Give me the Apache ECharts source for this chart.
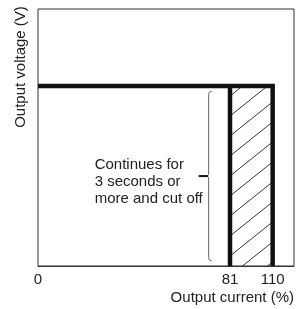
<!DOCTYPE html>
<html>
<head>
<meta charset="utf-8">
<script src="https://cdn.jsdelivr.net/npm/echarts@6/dist/echarts.min.js"></script>
<style>
html, body { margin: 0; padding: 0; background: #fff; }
#main { width: 303px; height: 309px; }
</style>
</head>
<body>
<div id="main"></div>
<script>
// schematic current axis: tick slots, only a few carry a label
var currentTicks = ['0', '', '', '', '', '', '', '', '', '81', '', '110', ''];
var voltageMax = 100;
var ratedVoltage = 70;
var limitStart = '81';
var limitEnd = '110';
// brace: [slot, top, bottom]
var braceSpan = [8, 68, 2];
var noteLines = ['Continues for', '3 seconds or', 'more and cut off'];

var FONT = '"Liberation Sans", Arial, Helvetica, sans-serif';
var i0 = currentTicks.indexOf('0');
var iStart = currentTicks.indexOf(limitStart);
var iEnd = currentTicks.indexOf(limitEnd);

// hatch pattern
var hatch = document.createElement('canvas');
hatch.width = 25;
hatch.height = 20;
var hc = hatch.getContext('2d');
hc.strokeStyle = '#333';
hc.lineWidth = 1;
hc.beginPath();
hc.moveTo(0, 20);
hc.lineTo(25, 0);
hc.stroke();

var myChart = echarts.init(document.getElementById('main'));

var option = {
    animation: false,
    grid: {
        left: 38, right: 9, top: 9, bottom: 43,
        show: true, borderColor: '#333', borderWidth: 1
    },
    xAxis: {
        type: 'category',
        data: currentTicks,
        boundaryGap: false,
        axisLine: { show: true, lineStyle: { color: '#333', width: 1 } },
        axisTick: { show: false },
        axisLabel: { interval: 0, color: '#222', fontSize: 15, fontFamily: FONT, margin: 6 },
        splitLine: { show: false },
        name: 'Output current (%)',
        nameLocation: 'end',
        nameGap: 0,
        nameTextStyle: {
            align: 'right', verticalAlign: 'top', color: '#222',
            fontSize: 15, fontFamily: FONT, padding: [24, 0, 0, 0]
        }
    },
    yAxis: {
        type: 'value',
        min: 0,
        max: voltageMax,
        axisLine: { show: false },
        axisTick: { show: false },
        axisLabel: { show: false },
        splitLine: { show: false }
    },
    graphic: [{
        type: 'text',
        x: 21, y: 67,
        rotation: Math.PI / 2,
        style: {
            text: 'Output voltage (V)', fill: '#222',
            font: '15px ' + FONT, textAlign: 'center', textVerticalAlign: 'middle'
        }
    }],
    series: [
        {
            type: 'line',
            symbol: 'none',
            data: [[iStart, ratedVoltage], [iStart, 0]],
            lineStyle: { color: '#111', width: 4.5, cap: 'butt' },
            markArea: {
                silent: true,
                itemStyle: { color: { image: hatch, repeat: 'repeat' }, opacity: 1, borderWidth: 0 },
                data: [[{ xAxis: iStart, yAxis: 0 }, { xAxis: iEnd, yAxis: ratedVoltage }]]
            },
            z: 3
        },
        {
            type: 'line',
            symbol: 'none',
            data: [[i0, ratedVoltage], [iEnd, ratedVoltage], [iEnd, 0]],
            lineStyle: { color: '#111', width: 4.5, cap: 'butt', join: 'miter' },
            z: 3
        },
        {
            type: 'custom',
            data: [braceSpan],
            renderItem: function (params, api) {
                var top = api.coord([api.value(0), api.value(1)]);
                var bot = api.coord([api.value(0), api.value(2)]);
                var x = top[0], y1 = top[1], y2 = bot[1], ym = (y1 + y2) / 2;
                var path = 'M' + (x + 3) + ' ' + y1 +
                    ' Q' + x + ' ' + y1 + ' ' + x + ' ' + (y1 + 3) +
                    ' L' + x + ' ' + (ym - 3) +
                    ' Q' + x + ' ' + ym + ' ' + (x - 2) + ' ' + ym +
                    ' Q' + x + ' ' + ym + ' ' + x + ' ' + (ym + 3) +
                    ' L' + x + ' ' + (y2 - 3) +
                    ' Q' + x + ' ' + y2 + ' ' + (x + 3) + ' ' + y2;
                return {
                    type: 'group',
                    children: [
                        {
                            type: 'path',
                            shape: { pathData: path },
                            style: { fill: null, stroke: '#666', lineWidth: 1 }
                        },
                        {
                            type: 'line',
                            shape: { x1: x - 10, y1: ym, x2: x - 1, y2: ym },
                            style: { stroke: '#111', lineWidth: 2 }
                        },
                        {
                            type: 'text',
                            style: {
                                text: noteLines.join('\n'),
                                x: x - 114, y: ym + 6,
                                fill: '#222', font: '15px ' + FONT,
                                textAlign: 'left', textVerticalAlign: 'middle',
                                lineHeight: 17
                            }
                        }
                    ]
                };
            },
            z: 2
        }
    ]
};

myChart.setOption(option);
</script>
</body>
</html>
